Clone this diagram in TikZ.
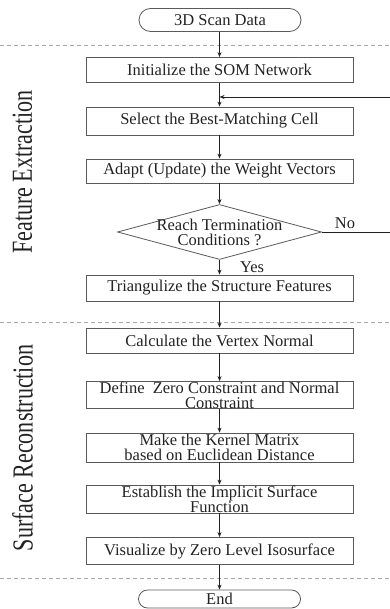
\documentclass[tikz,border=0pt]{standalone}
\usepackage{fontspec}
\setmainfont{Liberation Serif}
\usetikzlibrary{shapes.geometric,arrows.meta}
\definecolor{ink}{HTML}{222222}
\definecolor{edge}{HTML}{5A5A5A}
\definecolor{sep}{HTML}{A8A8A8}
\begin{document}
\begin{tikzpicture}[x=1pt,y=-1pt,
  every node/.style={font=\fontsize{16.5}{15}\selectfont, text=ink},
  stepbox/.style={draw=edge, line width=0.8pt, minimum width=267pt,
    inner xsep=0pt, inner ysep=0pt, align=center},
  terminal/.style={draw=edge, line width=0.8pt, rounded corners=11.5pt,
    minimum width=162pt, minimum height=23pt, inner sep=0pt},
  decision/.style={draw=edge, line width=0.8pt, diamond,
    minimum width=204pt, minimum height=55pt, inner sep=0pt},
  flow/.style={draw=ink, line width=0.8pt, -{Stealth[length=5pt,width=4pt]}},
  divider/.style={draw=sep, line width=0.8pt, dash pattern=on 4pt off 3pt},
  phase/.style={rotate=90, font=\fontsize{29}{30}\selectfont, inner sep=0pt}
]
\useasboundingbox (0,0) rectangle (389,609);

% phase dividers
\coordinate (d1l) at (0,45);  \coordinate (d1r) at (389,45);
\coordinate (d2l) at (0,322); \coordinate (d2r) at (389,322);
\coordinate (d3l) at (0,578); \coordinate (d3r) at (389,578);
\draw[divider] (d1l) -- (d1r);
\draw[divider] (d2l) -- (d2r);
\draw[divider] (d3l) -- (d3r);

% phase titles
\node[phase] (fe) at (22.5,172) {\scalebox{0.76}[1]{Feature Extraction}};
\node[phase] (sr) at (22.5,448) {\scalebox{0.76}[1]{Surface Reconstruction}};

% flow steps
\node[terminal] (start) at (220,20) {3D Scan Data};
\node[stepbox, minimum height=25pt] (init) at (219.5,70) {Initialize the SOM Network};
\node[stepbox, minimum height=28pt] (select) at (219.5,121) {Select the Best-Matching Cell};
\node[stepbox, minimum height=24pt] (adapt) at (219.5,171) {Adapt (Update) the Weight Vectors};
\node[decision] (check) at (219.5,232) {};
\node[align=center] (checktext) at (219.5,232.5) {Reach Termination\\Conditions ?};
\node[stepbox, minimum height=26pt] (tri) at (219.5,288) {Triangulize the Structure Features};
\node[stepbox, minimum height=25pt] (normal) at (219.5,340.5) {Calculate the Vertex Normal};
\node[stepbox, minimum height=27pt] (constr) at (219.5,395) {Define~~Zero Constraint and Normal\\Constraint};
\node[stepbox, minimum height=29pt] (kernel) at (219.5,447.5) {Make the Kernel Matrix\\based on Euclidean Distance};
\node[stepbox, minimum height=28pt] (implicit) at (219.5,499) {Establish the Implicit Surface\\Function};
\node[stepbox, minimum height=27pt] (iso) at (219.5,551) {Visualize by Zero Level Isosurface};
\node[terminal, minimum height=18pt, rounded corners=9pt] (finish) at (219.5,599) {End};

% branch labels
\node (yes) at (252,267) {Yes};
\node (no) at (345,223) {No};

% connectors
\draw[flow] (start.south -| init.north) -- (init.north);
\draw[flow] (init) -- (select);
\draw[flow] (select) -- (adapt);
\draw[flow] (adapt) -- (check);
\draw[flow] (check) -- (tri);
\draw[flow] (tri) -- (normal);
\draw[flow] (normal) -- (constr);
\draw[flow] (constr) -- (kernel);
\draw[flow] (kernel) -- (implicit);
\draw[flow] (implicit) -- (iso);
\draw[flow] (iso) -- (finish);

% loop back while the termination test fails (its rail runs past the right edge)
\coordinate (rail) at (396,97);
\coordinate (join) at (219.5,97);
\draw[flow] (check.east) -- (check.east -| rail) -- (rail) -- (join);
\end{tikzpicture}
\end{document}
